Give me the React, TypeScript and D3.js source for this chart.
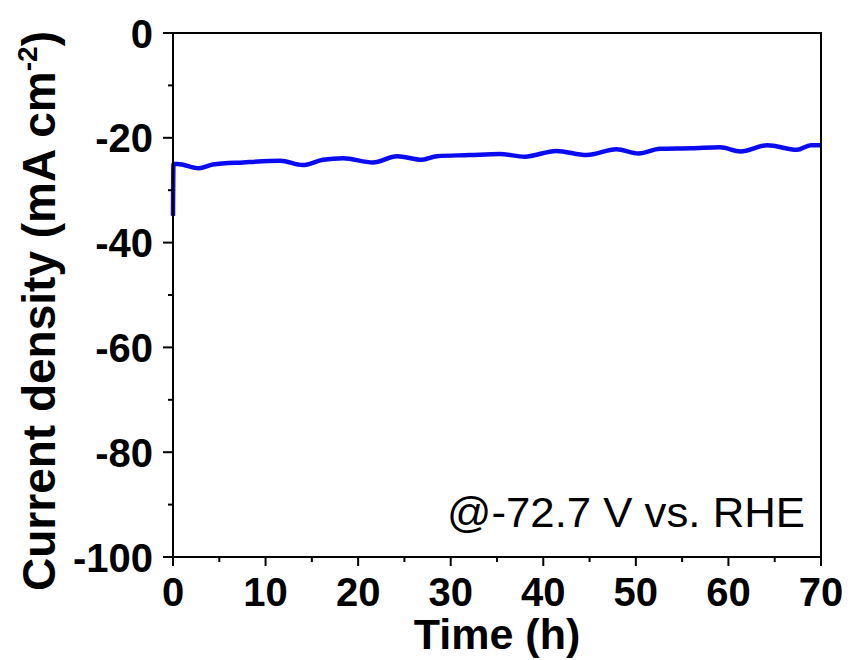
import React from "react";
import * as d3 from "d3";

const timeH = [0, 0.05, 0.5, 2.8, 4.3, 7.6, 11.6, 14, 16.2, 18.4, 21.6, 24.2, 26.9, 28.5, 32, 35.3, 38, 41.4, 44.7, 47.9, 50.3, 52.6, 56, 59.1, 61.3, 64.2, 67.4, 68.9, 70];
const currentDensity = [-34.9, -25.0, -25.0, -25.8, -25.1, -24.7, -24.4, -25.2, -24.2, -23.9, -24.7, -23.5, -24.2, -23.5, -23.3, -23.1, -23.6, -22.5, -23.3, -22.2, -23.0, -22.1, -22.0, -21.8, -22.6, -21.4, -22.3, -21.4, -21.4];
const xTicks = [0, 10, 20, 30, 40, 50, 60, 70];
const xMinor = [5, 15, 25, 35, 45, 55, 65];
const yTicks = [0, -20, -40, -60, -80, -100];
const yMinor = [-10, -30, -50, -70, -90];

const W = 852, H = 660;
const L = 173, R = 821, T = 33, B = 557;
const FONT = "'Liberation Sans', Arial, Helvetica, sans-serif";

export default function App() {
  const x = d3.scaleLinear().domain([0, 70]).range([L, R]);
  const y = d3.scaleLinear().domain([-100, 0]).range([B, T]);
  const pts = timeH.map((t, i) => [t, currentDensity[i]] as [number, number]);
  const line = d3.line<[number, number]>().x(d => x(d[0])).y(d => y(d[1])).curve(d3.curveMonotoneX);
  return (
    <svg width={W} height={H} style={{ position: "absolute", left: 0, top: 0, background: "#fff" }} fontFamily={FONT}>
      <rect x={0} y={0} width={W} height={H} fill="#fff" />
      <path d={line(pts) || ""} fill="none" stroke="#0b0bf0" strokeWidth={4.5} strokeLinejoin="round" />
      <rect x={L} y={T} width={R - L} height={B - T} fill="none" stroke="#000" strokeWidth={2} />
      {yTicks.map(v => (
        <g key={"y" + v}>
          <line x1={L - 10} x2={L} y1={y(v)} y2={y(v)} stroke="#000" strokeWidth={2} />
          <text x={153} y={y(v) + 14.5} textAnchor="end" fontSize={40} fontWeight="bold">{v}</text>
        </g>
      ))}
      {yMinor.map(v => (
        <line key={"ym" + v} x1={L - 5} x2={L} y1={y(v)} y2={y(v)} stroke="#000" strokeWidth={2} />
      ))}
      {xTicks.map(v => (
        <g key={"x" + v}>
          <line x1={x(v)} x2={x(v)} y1={B} y2={B + 9} stroke="#000" strokeWidth={2} />
          <text x={x(v)} y={606} textAnchor="middle" fontSize={40} fontWeight="bold">{v}</text>
        </g>
      ))}
      {xMinor.map(v => (
        <line key={"xm" + v} x1={x(v)} x2={x(v)} y1={B} y2={B + 5} stroke="#000" strokeWidth={2} />
      ))}
      <text x={(L + R) / 2} y={649} textAnchor="middle" fontSize={43} fontWeight="bold">Time (h)</text>
      <text transform={`translate(55, 311) rotate(-90)`} textAnchor="middle" fontSize={46} fontWeight="bold">
        Current density (mA cm<tspan fontSize={28} dy={-18}>-2</tspan><tspan dy={18}>)</tspan>
      </text>
      <text x={805} y={527} textAnchor="end" fontSize={42} textLength={358} lengthAdjust="spacingAndGlyphs">@-72.7 V vs. RHE</text>
    </svg>
  );
}
